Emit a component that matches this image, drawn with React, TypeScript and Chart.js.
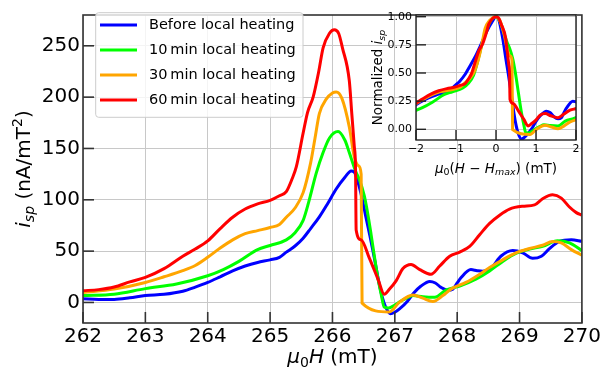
import React, { useEffect, useRef } from "react";
import { Chart, registerables } from "chart.js";
Chart.register(...registerables);

const FONT = '"DejaVu Sans"';
Chart.defaults.font.family = FONT;

const SERIES_LABELS = [
  "Before local heating",
  "10\u2009min local heating",
  "30\u2009min local heating",
  "60\u2009min local heating",
];
const SERIES_COLORS = ["#0000ff", "#00ff00", "#ffa500", "#ff0000"];

const BEFORE_X = [262.0, 262.25, 262.5, 262.75, 263.0, 263.3, 263.6, 263.8, 264.0, 264.2, 264.4, 264.6, 264.8, 265.0, 265.15, 265.26, 265.4, 265.53, 265.65, 265.79, 265.92, 266.06, 266.2, 266.3, 266.35, 266.41, 266.48, 266.54, 266.6, 266.65, 266.7, 266.75, 266.8, 266.85, 266.93, 267.0, 267.08, 267.2, 267.3, 267.42, 267.56, 267.65, 267.74, 267.85, 267.93, 268.0, 268.06, 268.22, 268.32, 268.41, 268.55, 268.7, 268.89, 269.05, 269.21, 269.35, 269.48, 269.64, 269.83, 270.0];
const BEFORE_Y = [3.5, 3, 3, 4.5, 6.7, 8, 11, 15, 19.5, 25, 30.7, 35.5, 39, 41.5, 44, 49, 55, 62.6, 72, 83.4, 96, 110.5, 122, 128, 127, 117, 100, 82, 65, 50, 34, 18, 5, -4, -11, -9.5, -6, 1, 9, 16, 20.5, 19, 14.7, 12, 13, 19, 24, 32, 31, 30.5, 34, 45, 50.5, 48.4, 43, 45, 52.4, 59.4, 61, 59.5];

const TEN_X = [262.0, 262.5, 263.0, 263.5, 264.0, 264.25, 264.5, 264.8, 265.0, 265.26, 265.4, 265.53, 265.62, 265.74, 265.85, 265.95, 266.09, 266.2, 266.27, 266.37, 266.43, 266.51, 266.57, 266.62, 266.66, 266.7, 266.74, 266.78, 266.83, 266.9, 267.0, 267.1, 267.18, 267.29, 267.45, 267.64, 267.82, 268.04, 268.3, 268.52, 268.73, 268.95, 269.16, 269.37, 269.61, 269.8, 270.0];
const TEN_Y = [6.7, 8, 13.5, 18, 26, 32, 40, 51.5, 55.5, 61, 68, 80, 98, 126, 146, 160, 166.5, 158, 146, 128, 120, 104, 85, 66, 50, 34, 20, 8.3, -4.5, -5.5, -2.5, 1.5, 4, 6.7, 5.5, 5, 12, 16, 22.7, 30.7, 40, 48, 52, 54.6, 60, 58, 50.5];

const THIRTY_X = [262.0, 262.5, 263.0, 263.3, 263.6, 263.8, 264.0, 264.2, 264.4, 264.6, 264.8, 265.0, 265.15, 265.26, 265.4, 265.53, 265.65, 265.72, 265.79, 265.9, 266.0, 266.06, 266.15, 266.27, 266.35, 266.42, 266.46, 266.475, 266.91, 267.075, 267.29, 267.45, 267.61, 267.77, 267.9, 268.14, 268.36, 268.52, 268.73, 268.95, 269.16, 269.37, 269.53, 269.67, 269.83, 270.0];
const THIRTY_Y = [9.6, 13, 19.5, 25, 31, 36, 44, 53, 61, 67, 70, 73, 76, 83, 92, 107, 136, 160, 184, 198, 204, 205, 199, 171, 142, 133, 125, -0.6, -9.3, 0.3, 7.3, 4.2, 1, 6.7, 13, 19.5, 27.5, 34, 41.5, 48.5, 52.5, 55.7, 59.4, 58, 51.5, 46];

const SIXTY_X = [262.0, 262.25, 262.5, 262.75, 263.0, 263.3, 263.6, 263.8, 264.0, 264.2, 264.4, 264.6, 264.8, 265.0, 265.15, 265.26, 265.35, 265.42, 265.53, 265.6, 265.69, 265.78, 265.85, 265.95, 266.03, 266.1, 266.16, 266.27, 266.31, 266.35, 266.37, 266.38, 266.46, 266.59, 266.73, 266.83, 266.915, 267.02, 267.13, 267.26, 267.4, 267.58, 267.72, 267.88, 268.04, 268.2, 268.36, 268.52, 268.68, 268.84, 269.05, 269.24, 269.37, 269.53, 269.67, 269.8, 269.91, 270.0];
const SIXTY_Y = [11.5, 12.5, 15, 20, 24.5, 33, 45, 52, 60, 72, 83, 91, 96, 99.5, 104, 108, 120, 132, 165, 185, 200, 225, 248, 262, 265.6, 262, 248, 216, 184, 152, 130, 70.6, 61, 43.4, 22.7, 8, 13, 21, 33, 37, 32, 27.5, 35.5, 45, 49, 54.6, 66, 77, 85, 91, 93.7, 95, 101, 104.8, 101.6, 93, 87.5, 85];

const SERIES_X = [BEFORE_X, TEN_X, THIRTY_X, SIXTY_X];
const SERIES_Y = [BEFORE_Y, TEN_Y, THIRTY_Y, SIXTY_Y];

const MAIN_X_TICKS = [262, 263, 264, 265, 266, 267, 268, 269, 270];
const MAIN_Y_TICKS = [0, 50, 100, 150, 200, 250];
const INSET_X_TICKS = [-2, -1, 0, 1, 2];
const INSET_Y_TICKS = [0, 0.25, 0.5, 0.75, 1.0];

type Seg = { t: string; it?: boolean; sub?: boolean; sup?: boolean };

function drawRich(ctx: CanvasRenderingContext2D, segs: Seg[], size: number, x: number, y: number, rotated: boolean) {
  const fontFor = (s: Seg) => `${s.it ? "italic " : ""}${s.sub || s.sup ? size * 0.7 : size}px ${FONT}`;
  let total = 0;
  const widths = segs.map((s) => {
    ctx.font = fontFor(s);
    const w = ctx.measureText(s.t).width;
    total += w;
    return w;
  });
  ctx.save();
  ctx.translate(x, y);
  if (rotated) ctx.rotate(-Math.PI / 2);
  ctx.fillStyle = "#000";
  ctx.textBaseline = "alphabetic";
  ctx.textAlign = "left";
  let cx = -total / 2;
  segs.forEach((s, i) => {
    ctx.font = fontFor(s);
    const dy = s.sub ? size * 0.22 : s.sup ? -size * 0.42 : 0;
    ctx.fillText(s.t, cx, dy);
    cx += widths[i];
  });
  ctx.restore();
}

function normalizeSeries(xs: number[], ys: number[]) {
  let k = 0;
  ys.forEach((v, i) => {
    if (v > ys[k]) k = i;
  });
  return xs.map((x, i) => ({ x: x - xs[k], y: ys[i] / ys[k] }));
}

function makeDatasets(points: { x: number; y: number }[][]) {
  return points.map((pts, i) => ({
    label: SERIES_LABELS[i],
    data: pts,
    borderColor: SERIES_COLORS[i],
    backgroundColor: SERIES_COLORS[i],
    borderWidth: 3,
    pointRadius: 0,
    cubicInterpolationMode: "monotone",
    fill: false,
    clip: 0,
    order: 4 - i,
  }));
}

function frameTicksPlugin(tickLen: number, color: string, width: number) {
  return {
    id: "frameTicks",
    afterDatasetsDraw(chart: any) {
      const { ctx, chartArea: a, scales } = chart;
      ctx.save();
      ctx.strokeStyle = color;
      ctx.lineWidth = width;
      scales.x.ticks.forEach((t: any) => {
        const px = scales.x.getPixelForValue(t.value);
        ctx.beginPath();
        ctx.moveTo(px, a.bottom);
        ctx.lineTo(px, a.bottom - tickLen);
        ctx.stroke();
      });
      scales.y.ticks.forEach((t: any) => {
        const py = scales.y.getPixelForValue(t.value);
        ctx.beginPath();
        ctx.moveTo(a.left, py);
        ctx.lineTo(a.left + tickLen, py);
        ctx.stroke();
      });
      ctx.strokeRect(a.left, a.top, a.right - a.left, a.bottom - a.top);
      ctx.restore();
    },
  };
}

const mainTitlesLegend = {
  id: "mainTitlesLegend",
  afterDraw(chart: any) {
    const { ctx, chartArea: a } = chart;
    drawRich(ctx, [{ t: "μ", it: true }, { t: "0", sub: true }, { t: "H", it: true }, { t: " (mT)" }], 20, (a.left + a.right) / 2, 363, false);
    drawRich(ctx, [{ t: "i", it: true }, { t: "sp", it: true, sub: true }, { t: " (nA/mT" }, { t: "2", sup: true }, { t: ")" }], 20, 30, (a.top + a.bottom) / 2, true);
    // legend
    const bx = 95.7, by = 12.7, bw = 207.3, bh = 104.6, r = 3;
    ctx.save();
    ctx.beginPath();
    ctx.moveTo(bx + r, by);
    ctx.arcTo(bx + bw, by, bx + bw, by + bh, r);
    ctx.arcTo(bx + bw, by + bh, bx, by + bh, r);
    ctx.arcTo(bx, by + bh, bx, by, r);
    ctx.arcTo(bx, by, bx + bw, by, r);
    ctx.closePath();
    ctx.fillStyle = "rgba(255,255,255,0.8)";
    ctx.fill();
    ctx.strokeStyle = "#cccccc";
    ctx.lineWidth = 1;
    ctx.stroke();
    chart.data.datasets.forEach((ds: any, i: number) => {
      const yy = 25 + 25 * i;
      ctx.strokeStyle = ds.borderColor;
      ctx.lineWidth = 3;
      ctx.beginPath();
      ctx.moveTo(100, yy);
      ctx.lineTo(137, yy);
      ctx.stroke();
      ctx.fillStyle = "#000";
      ctx.font = `14.5px ${FONT}`;
      ctx.textBaseline = "middle";
      ctx.textAlign = "left";
      ctx.fillText(ds.label, 149, yy + 0.5);
    });
    ctx.restore();
  },
};

const insetPlugin = {
  id: "insetDecor",
  beforeDraw(chart: any) {
    const { ctx, chartArea: a } = chart;
    ctx.save();
    ctx.fillStyle = "#fff";
    ctx.fillRect(a.left, a.top, a.right - a.left, a.bottom - a.top);
    ctx.restore();
  },
  afterDraw(chart: any) {
    const { ctx, chartArea: a } = chart;
    drawRich(
      ctx,
      [{ t: "μ", it: true }, { t: "0", sub: true }, { t: "(" }, { t: "H", it: true }, { t: " − " }, { t: "H", it: true }, { t: "max", it: true, sub: true }, { t: ")" }, { t: " (mT)" }],
      13.5,
      (a.left + a.right) / 2,
      172.5,
      false
    );
    drawRich(ctx, [{ t: "Normalized " }, { t: "i", it: true }, { t: "sp", it: true, sub: true }], 13.5, 27, (a.top + a.bottom) / 2, true);
  },
};

export default function App() {
  const mainRef = useRef<HTMLCanvasElement>(null);
  const insetRef = useRef<HTMLCanvasElement>(null);

  useEffect(() => {
    const mainPts = SERIES_X.map((xs, i) => xs.map((x, j) => ({ x, y: SERIES_Y[i][j] })));
    const insetPts = SERIES_X.map((xs, i) => normalizeSeries(xs, SERIES_Y[i]));

    const main = new Chart(mainRef.current!, {
      type: "line",
      data: { datasets: makeDatasets(mainPts) as any },
      options: {
        animation: false,
        responsive: false,
        maintainAspectRatio: false,
        devicePixelRatio: 1,
        layout: { padding: { top: 10, right: 21, left: 0, bottom: 0 } },
        plugins: { legend: { display: false }, tooltip: { enabled: false } },
        scales: {
          x: {
            type: "linear",
            min: 262,
            max: 270,
            afterFit: (s: any) => {
              s.height = 52;
            },
            afterBuildTicks: (s: any) => {
              s.ticks = MAIN_X_TICKS.map((v) => ({ value: v }));
            },
            ticks: { font: { size: 20 }, color: "#000", padding: 2, maxRotation: 0, autoSkip: false, callback: (v: any) => String(v) },
            grid: { color: "#c8c8c8", lineWidth: 1, drawTicks: false },
            border: { display: false },
          },
          y: {
            type: "linear",
            min: -20,
            max: 280,
            afterFit: (s: any) => {
              s.width = 83;
            },
            afterBuildTicks: (s: any) => {
              s.ticks = MAIN_Y_TICKS.map((v) => ({ value: v }));
            },
            ticks: { font: { size: 20 }, color: "#000", padding: 3, autoSkip: false, callback: (v: any) => String(v) },
            grid: { color: "#c8c8c8", lineWidth: 1, drawTicks: false },
            border: { display: false },
          },
        },
      } as any,
      plugins: [frameTicksPlugin(11, "#333", 1.6), mainTitlesLegend],
    });

    const inset = new Chart(insetRef.current!, {
      type: "line",
      data: { datasets: makeDatasets(insetPts) as any },
      options: {
        animation: false,
        responsive: false,
        maintainAspectRatio: false,
        devicePixelRatio: 1,
        layout: { padding: { top: 15, right: 27, left: 0, bottom: 0 } },
        plugins: { legend: { display: false }, tooltip: { enabled: false } },
        scales: {
          x: {
            type: "linear",
            min: -2,
            max: 2,
            afterFit: (s: any) => {
              s.height = 40;
            },
            afterBuildTicks: (s: any) => {
              s.ticks = INSET_X_TICKS.map((v) => ({ value: v }));
            },
            ticks: {
              font: { size: 11 },
              color: "#000",
              padding: 3,
              maxRotation: 0,
              autoSkip: false,
              callback: (v: any) => (v < 0 ? "\u2212" + Math.abs(v) : String(v)),
            },
            grid: { color: "#c8c8c8", lineWidth: 1, drawTicks: false },
            border: { display: false },
          },
          y: {
            type: "linear",
            min: -0.095,
            max: 1.015,
            afterFit: (s: any) => {
              s.width = 61;
            },
            afterBuildTicks: (s: any) => {
              s.ticks = INSET_Y_TICKS.map((v) => ({ value: v }));
            },
            ticks: { font: { size: 11 }, color: "#000", padding: 4, autoSkip: false, callback: (v: any) => Number(v).toFixed(2) },
            grid: { color: "#c8c8c8", lineWidth: 1, drawTicks: false },
            border: { display: false },
          },
        },
      } as any,
      plugins: [insetPlugin, frameTicksPlugin(10, "#222", 1.4)],
    });

    return () => {
      main.destroy();
      inset.destroy();
    };
  }, []);

  return (
    <div style={{ position: "fixed", left: 0, top: 0, width: 603, height: 375, background: "#fff" }}>
      <canvas ref={mainRef} width={603} height={375} style={{ position: "absolute", left: 0, top: 0, width: 603, height: 375 }} />
      <canvas ref={insetRef} width={248} height={180} style={{ position: "absolute", left: 355, top: 0, width: 248, height: 180 }} />
    </div>
  );
}
